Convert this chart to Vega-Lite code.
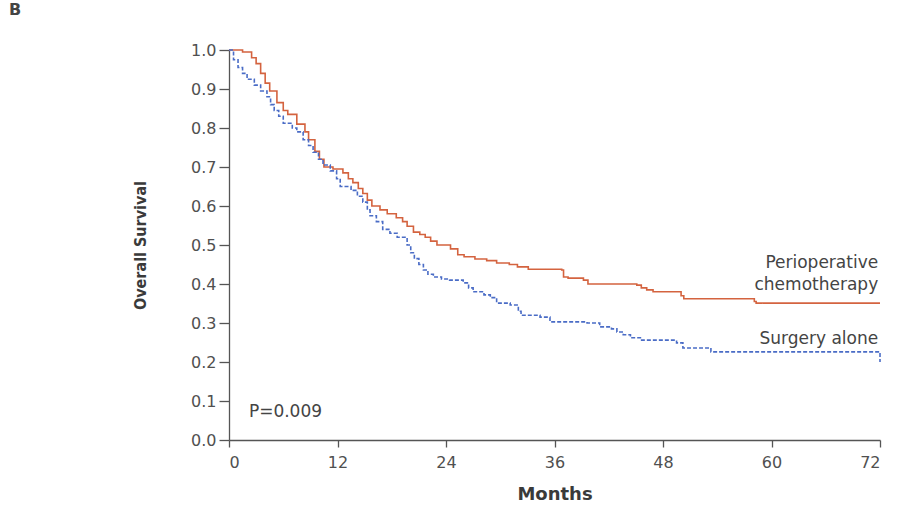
{
  "$schema": "https://vega.github.io/schema/vega-lite/v6.json",
  "width": 651,
  "height": 390,
  "autosize": "none",
  "padding": {"left": 229, "top": 50, "right": 27, "bottom": 67},
  "background": "white",
  "config": {
    "view": {"stroke": null},
    "axis": {"grid": false}
  },
  "title": {
    "text": "B",
    "anchor": "start",
    "frame": "group",
    "dx": -220,
    "offset": 24,
    "fontSize": 16,
    "font": "DejaVu Sans",
    "fontWeight": "bold",
    "color": "#444"
  },
  "datasets": {
    "curves": [
      {"group": "Perioperative chemotherapy", "month": 0, "surv": 1.0},
      {"group": "Perioperative chemotherapy", "month": 1.5, "surv": 0.995},
      {"group": "Perioperative chemotherapy", "month": 2.5, "surv": 0.98},
      {"group": "Perioperative chemotherapy", "month": 3, "surv": 0.965},
      {"group": "Perioperative chemotherapy", "month": 3.5, "surv": 0.94},
      {"group": "Perioperative chemotherapy", "month": 4, "surv": 0.915},
      {"group": "Perioperative chemotherapy", "month": 4.5, "surv": 0.895},
      {"group": "Perioperative chemotherapy", "month": 5.3, "surv": 0.865},
      {"group": "Perioperative chemotherapy", "month": 6, "surv": 0.845},
      {"group": "Perioperative chemotherapy", "month": 6.5, "surv": 0.835},
      {"group": "Perioperative chemotherapy", "month": 7.5, "surv": 0.81},
      {"group": "Perioperative chemotherapy", "month": 8.4, "surv": 0.79},
      {"group": "Perioperative chemotherapy", "month": 8.8, "surv": 0.77},
      {"group": "Perioperative chemotherapy", "month": 9.5, "surv": 0.74},
      {"group": "Perioperative chemotherapy", "month": 10, "surv": 0.72},
      {"group": "Perioperative chemotherapy", "month": 10.5, "surv": 0.7},
      {"group": "Perioperative chemotherapy", "month": 11.5, "surv": 0.695},
      {"group": "Perioperative chemotherapy", "month": 12.6, "surv": 0.685},
      {"group": "Perioperative chemotherapy", "month": 13.2, "surv": 0.67},
      {"group": "Perioperative chemotherapy", "month": 13.7, "surv": 0.66},
      {"group": "Perioperative chemotherapy", "month": 14.3, "surv": 0.645},
      {"group": "Perioperative chemotherapy", "month": 14.8, "surv": 0.632},
      {"group": "Perioperative chemotherapy", "month": 15.3, "surv": 0.615},
      {"group": "Perioperative chemotherapy", "month": 15.8, "surv": 0.6},
      {"group": "Perioperative chemotherapy", "month": 16.7, "surv": 0.59},
      {"group": "Perioperative chemotherapy", "month": 17.5, "surv": 0.58},
      {"group": "Perioperative chemotherapy", "month": 18.5, "surv": 0.57},
      {"group": "Perioperative chemotherapy", "month": 19.2, "surv": 0.56},
      {"group": "Perioperative chemotherapy", "month": 19.7, "surv": 0.548},
      {"group": "Perioperative chemotherapy", "month": 20.4, "surv": 0.533},
      {"group": "Perioperative chemotherapy", "month": 21.1, "surv": 0.527},
      {"group": "Perioperative chemotherapy", "month": 21.7, "surv": 0.52},
      {"group": "Perioperative chemotherapy", "month": 22.3, "surv": 0.51},
      {"group": "Perioperative chemotherapy", "month": 23, "surv": 0.5},
      {"group": "Perioperative chemotherapy", "month": 24.5, "surv": 0.49},
      {"group": "Perioperative chemotherapy", "month": 25.3, "surv": 0.475},
      {"group": "Perioperative chemotherapy", "month": 26, "surv": 0.47},
      {"group": "Perioperative chemotherapy", "month": 27.2, "surv": 0.464},
      {"group": "Perioperative chemotherapy", "month": 28.5, "surv": 0.46},
      {"group": "Perioperative chemotherapy", "month": 29.6, "surv": 0.454},
      {"group": "Perioperative chemotherapy", "month": 31, "surv": 0.45},
      {"group": "Perioperative chemotherapy", "month": 31.9, "surv": 0.444},
      {"group": "Perioperative chemotherapy", "month": 33.1, "surv": 0.438},
      {"group": "Perioperative chemotherapy", "month": 36.8, "surv": 0.436},
      {"group": "Perioperative chemotherapy", "month": 37, "surv": 0.418},
      {"group": "Perioperative chemotherapy", "month": 37.5, "surv": 0.415},
      {"group": "Perioperative chemotherapy", "month": 39.2, "surv": 0.41},
      {"group": "Perioperative chemotherapy", "month": 39.7, "surv": 0.4},
      {"group": "Perioperative chemotherapy", "month": 45.1, "surv": 0.397},
      {"group": "Perioperative chemotherapy", "month": 45.6, "surv": 0.39},
      {"group": "Perioperative chemotherapy", "month": 46.2, "surv": 0.385},
      {"group": "Perioperative chemotherapy", "month": 46.9, "surv": 0.38},
      {"group": "Perioperative chemotherapy", "month": 50.0, "surv": 0.37},
      {"group": "Perioperative chemotherapy", "month": 50.3, "surv": 0.362},
      {"group": "Perioperative chemotherapy", "month": 58.1, "surv": 0.355},
      {"group": "Perioperative chemotherapy", "month": 58.3, "surv": 0.351},
      {"group": "Perioperative chemotherapy", "month": 72, "surv": 0.351},
      {"group": "Surgery alone", "month": 0, "surv": 1.0},
      {"group": "Surgery alone", "month": 0.5, "surv": 0.975},
      {"group": "Surgery alone", "month": 1, "surv": 0.955},
      {"group": "Surgery alone", "month": 1.5, "surv": 0.94},
      {"group": "Surgery alone", "month": 2, "surv": 0.925},
      {"group": "Surgery alone", "month": 2.8, "surv": 0.91},
      {"group": "Surgery alone", "month": 3.5, "surv": 0.895},
      {"group": "Surgery alone", "month": 4.2, "surv": 0.88},
      {"group": "Surgery alone", "month": 4.6, "surv": 0.86},
      {"group": "Surgery alone", "month": 5, "surv": 0.845},
      {"group": "Surgery alone", "month": 5.5, "surv": 0.83},
      {"group": "Surgery alone", "month": 6, "surv": 0.812},
      {"group": "Surgery alone", "month": 7, "surv": 0.8},
      {"group": "Surgery alone", "month": 7.5, "surv": 0.79},
      {"group": "Surgery alone", "month": 8.2, "surv": 0.77},
      {"group": "Surgery alone", "month": 8.8, "surv": 0.755},
      {"group": "Surgery alone", "month": 9.3, "surv": 0.738},
      {"group": "Surgery alone", "month": 9.9, "surv": 0.72},
      {"group": "Surgery alone", "month": 10.4, "surv": 0.705},
      {"group": "Surgery alone", "month": 11.2, "surv": 0.69},
      {"group": "Surgery alone", "month": 11.9, "surv": 0.67},
      {"group": "Surgery alone", "month": 12.3, "surv": 0.65},
      {"group": "Surgery alone", "month": 13.5, "surv": 0.64},
      {"group": "Surgery alone", "month": 14.2, "surv": 0.625},
      {"group": "Surgery alone", "month": 14.8, "surv": 0.61},
      {"group": "Surgery alone", "month": 15.3, "surv": 0.59},
      {"group": "Surgery alone", "month": 15.6, "surv": 0.575},
      {"group": "Surgery alone", "month": 16.3, "surv": 0.56},
      {"group": "Surgery alone", "month": 17, "surv": 0.54},
      {"group": "Surgery alone", "month": 17.8, "surv": 0.53},
      {"group": "Surgery alone", "month": 18.6, "surv": 0.52},
      {"group": "Surgery alone", "month": 19.7, "surv": 0.5},
      {"group": "Surgery alone", "month": 20.1, "surv": 0.48},
      {"group": "Surgery alone", "month": 20.5, "surv": 0.465},
      {"group": "Surgery alone", "month": 21, "surv": 0.45},
      {"group": "Surgery alone", "month": 21.5, "surv": 0.436},
      {"group": "Surgery alone", "month": 22, "surv": 0.425},
      {"group": "Surgery alone", "month": 22.6, "surv": 0.418},
      {"group": "Surgery alone", "month": 23.5, "surv": 0.413},
      {"group": "Surgery alone", "month": 24.4, "surv": 0.41},
      {"group": "Surgery alone", "month": 25.9, "surv": 0.403},
      {"group": "Surgery alone", "month": 26.5, "surv": 0.39},
      {"group": "Surgery alone", "month": 27, "surv": 0.38},
      {"group": "Surgery alone", "month": 28.2, "surv": 0.372},
      {"group": "Surgery alone", "month": 28.9, "surv": 0.365},
      {"group": "Surgery alone", "month": 29.6, "surv": 0.351},
      {"group": "Surgery alone", "month": 31.1, "surv": 0.346},
      {"group": "Surgery alone", "month": 32, "surv": 0.33},
      {"group": "Surgery alone", "month": 32.3, "surv": 0.32},
      {"group": "Surgery alone", "month": 34.4, "surv": 0.315},
      {"group": "Surgery alone", "month": 35.5, "surv": 0.303},
      {"group": "Surgery alone", "month": 39.6, "surv": 0.3},
      {"group": "Surgery alone", "month": 41, "surv": 0.29},
      {"group": "Surgery alone", "month": 42.3, "surv": 0.285},
      {"group": "Surgery alone", "month": 42.9, "surv": 0.277},
      {"group": "Surgery alone", "month": 43.6, "surv": 0.27},
      {"group": "Surgery alone", "month": 44.4, "surv": 0.262},
      {"group": "Surgery alone", "month": 45.5, "surv": 0.256},
      {"group": "Surgery alone", "month": 48.4, "surv": 0.256},
      {"group": "Surgery alone", "month": 49.5, "surv": 0.249},
      {"group": "Surgery alone", "month": 50.2, "surv": 0.236},
      {"group": "Surgery alone", "month": 53.3, "surv": 0.226},
      {"group": "Surgery alone", "month": 71.7, "surv": 0.226},
      {"group": "Surgery alone", "month": 72, "surv": 0.2}
    ],
    "labels": [
      {"text": ["Perioperative", "chemotherapy"], "month": 71.8, "surv": 0.455},
      {"text": ["Surgery alone"], "month": 71.8, "surv": 0.258}
    ],
    "pval": [
      {"text": "P=0.009", "month": 2.2, "surv": 0.072}
    ]
  },
  "encoding": {
    "x": {
      "field": "month",
      "type": "quantitative",
      "scale": {"domain": [0, 72], "nice": false, "zero": true},
      "axis": {
        "values": [0, 12, 24, 36, 48, 60, 72],
        "tickCount": 20,
        "title": "Months",
        "titleFont": "DejaVu Sans",
        "titleFontSize": 18,
        "titleFontWeight": "bold",
        "titleColor": "#3a3a3a",
        "titleY": 54,
        "titleBaseline": "middle",
        "labelFont": "DejaVu Sans",
        "labelFontSize": 16,
        "labelColor": "#505050",
        "labelPadding": 7,
        "labelOverlap": false,
        "tickSize": 7,
        "tickColor": "#555",
        "domainColor": "#555",
        "domainWidth": 1.3,
        "tickWidth": 1.3
      }
    },
    "y": {
      "field": "surv",
      "type": "quantitative",
      "scale": {"domain": [0, 1], "nice": false},
      "axis": {
        "values": [0, 0.1, 0.2, 0.3, 0.4, 0.5, 0.6, 0.7, 0.8, 0.9, 1.0],
        "tickCount": 20,
        "format": ".1f",
        "title": "Overall Survival",
        "titleFont": "DejaVu Sans Condensed, Roboto, sans-serif",
        "titleFontSize": 16,
        "titleFontWeight": "bold",
        "titleColor": "#3a3a3a",
        "titleX": -89,
        "titleY": 195,
        "titleAngle": -90,
        "titleBaseline": "middle",
        "titleAlign": "center",
        "labelFont": "DejaVu Sans",
        "labelFontSize": 16,
        "labelColor": "#505050",
        "labelPadding": 3,
        "labelOverlap": false,
        "labelBound": false,
        "tickSize": 10,
        "tickColor": "#555",
        "domainColor": "#555",
        "domainWidth": 1.3,
        "tickWidth": 1.3
      }
    }
  },
  "layer": [
    {
      "data": {"name": "curves"},
      "mark": {"type": "line", "interpolate": "step-after", "strokeWidth": 1.6, "clip": false},
      "encoding": {
        "color": {
          "field": "group",
          "type": "nominal",
          "scale": {"domain": ["Perioperative chemotherapy", "Surgery alone"], "range": ["#d4633f", "#4a6cc6"]},
          "legend": null
        },
        "strokeDash": {
          "field": "group",
          "type": "nominal",
          "scale": {"domain": ["Perioperative chemotherapy", "Surgery alone"], "range": [[1, 0], [4, 2]]},
          "legend": null
        }
      }
    },
    {
      "data": {"name": "labels"},
      "mark": {"type": "text", "align": "right", "baseline": "middle", "font": "DejaVu Sans", "fontSize": 17, "color": "#444", "lineHeight": 22},
      "encoding": {
        "text": {"field": "text"}
      }
    },
    {
      "data": {"name": "pval"},
      "mark": {"type": "text", "align": "left", "baseline": "middle", "font": "DejaVu Sans", "fontSize": 17, "color": "#444"},
      "encoding": {
        "text": {"field": "text"}
      }
    }
  ]
}
